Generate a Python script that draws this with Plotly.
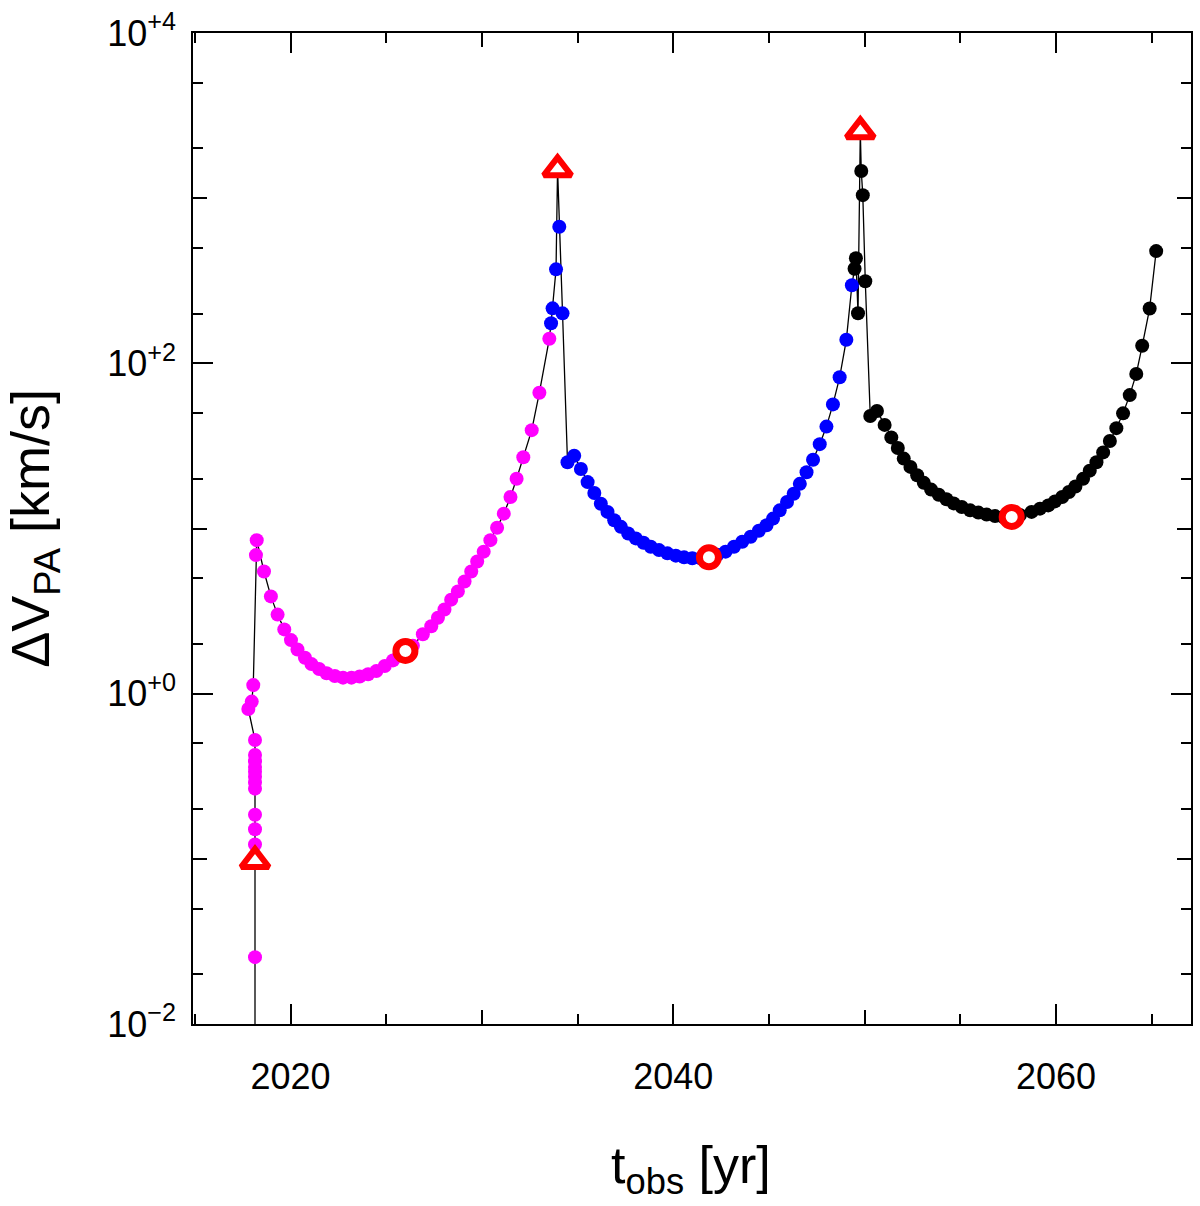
import plotly.graph_objects as go

# ---- data ----
mag_t = [2018.14, 2018.14, 2018.14, 2018.14, 2018.14, 2018.14, 2018.14, 2018.14, 2018.14,
         2018.14, 2018.14, 2018.14, 2018.14, 2018.14, 2017.79, 2017.97, 2018.05, 2018.19,
         2018.23, 2018.61, 2018.97, 2019.32, 2019.67, 2020.02, 2020.36, 2020.75, 2021.09,
         2021.49, 2021.88, 2022.31, 2022.74, 2023.18, 2023.61, 2024.05, 2024.48, 2024.92,
         2025.35, 2025.68, 2026.00, 2026.39, 2026.91, 2027.35, 2027.70, 2028.04, 2028.39,
         2028.74, 2029.09, 2029.44, 2029.75, 2030.09, 2030.44, 2030.79, 2031.14, 2031.49,
         2031.81, 2032.16, 2032.60, 2033.00, 2033.52]
mag_v = [0.003, 0.0254, 0.097, 0.122, 0.151, 0.185, 0.266, 0.29, 0.314,
         0.337, 0.36, 0.39, 0.425, 0.524, 0.808, 0.895, 1.127, 6.9,
         8.5, 5.49, 3.88, 3.01, 2.45, 2.11, 1.85, 1.65, 1.51,
         1.41, 1.33, 1.28, 1.25, 1.25, 1.27, 1.31, 1.37, 1.47,
         1.59, 1.70, 1.81, 1.95, 2.29, 2.56, 2.88, 3.23, 3.71,
         4.16, 4.78, 5.49, 6.31, 7.24, 8.5, 10.1, 12.3, 15.5,
         20.0, 27.0, 39.4, 66.4, 141.0]

blue_t = [2033.61, 2033.69, 2033.87, 2033.95, 2034.04, 2034.21, 2034.47, 2034.82, 2035.17,
          2035.52, 2035.87, 2036.21, 2036.56, 2036.91, 2037.26, 2037.64, 2038.04, 2038.44,
          2038.82, 2039.25, 2039.69, 2040.13, 2040.56, 2040.99, 2041.43, 2041.86, 2042.30,
          2042.73, 2043.17, 2043.60, 2044.04, 2044.47, 2044.87, 2045.21, 2045.56, 2045.94,
          2046.29, 2046.61, 2046.96, 2047.30, 2047.65, 2048.00, 2048.34, 2048.69, 2049.04,
          2049.33]
blue_v = [174.8, 215.2, 370.7, 1494.0, 672.0, 200.8, 25.2, 27.6, 22.9,
          19.1, 16.4, 14.13, 12.6, 11.21, 10.23, 9.33, 8.71, 8.20,
          7.76, 7.40, 7.07, 6.85, 6.69, 6.60, 6.60, 6.69, 6.93,
          7.24, 7.76, 8.32, 8.91, 9.69, 10.47, 11.48, 12.88, 14.47,
          16.23, 18.64, 21.9, 26.1, 32.4, 41.4, 56.4, 82.3, 138.8,
          297.0]

blk_t = [2049.47, 2049.54, 2049.65, 2049.77, 2049.82, 2049.90, 2050.03, 2050.29, 2050.64,
         2051.04, 2051.39, 2051.73, 2052.04, 2052.39, 2052.74, 2053.09, 2053.47, 2053.87,
         2054.27, 2054.65, 2055.07, 2055.51, 2055.94, 2056.37, 2056.81, 2057.24, 2057.68,
         2058.11, 2058.72, 2059.16, 2059.59, 2059.94, 2060.32, 2060.67, 2061.01, 2061.41,
         2061.76, 2062.11, 2062.46, 2062.81, 2063.15, 2063.50, 2063.85, 2064.19, 2064.50,
         2064.89, 2065.23]
blk_v = [374.0, 433.0, 201.0, 2540.0, 1460.0, 1043.0, 314.0, 48.0, 51.4,
         42.4, 35.6, 30.7, 26.5, 23.6, 21.0, 18.9, 17.2, 16.0,
         15.04, 14.19, 13.50, 12.88, 12.48, 12.14, 11.89, 11.75, 11.75,
         12.06, 12.60, 13.19, 13.80, 14.59, 15.50, 16.62, 17.96, 19.98,
         22.4, 25.2, 28.9, 33.9, 40.5, 49.8, 64.2, 86.3, 127.7,
         215.0, 478.0]

peak_t = [2018.14, 2033.95, 2049.77]
peak_v = [0.097, 1494.0, 2540.0]
min_t = [2026.00, 2041.86, 2057.68]
min_v = [1.815, 6.69, 11.75]

x_major = [2020, 2040, 2060]
x_major_text = ["2020", "2040", "2060"]
x_mid = [2030, 2050]
x_minor = [2015, 2025, 2035, 2045, 2055, 2065]
y_major = [1e-2, 1e0, 1e2, 1e4]
y_major_text = ["10<sup>−2</sup>", "10<sup>+0</sup>", "10<sup>+2</sup>", "10<sup>+4</sup>"]
y_mid = [1e-1, 1e1, 1e3]
y_minor = [2e-2, 5e-2, 2e-1, 5e-1, 2, 5, 20, 50, 200, 500, 2e3, 5e3]

X_RANGE = [2014.9, 2067.05]
Y_RANGE = [-2, 4]

FONT = "Liberation Sans, Arial, Helvetica, sans-serif"

fig = go.Figure()

# connecting line
fig.add_trace(go.Scatter(x=mag_t + blue_t + blk_t, y=mag_v + blue_v + blk_v,
                         mode="lines", line=dict(color="black", width=1.3),
                         hoverinfo="skip", showlegend=False))
for t, v, c in [(mag_t, mag_v, "#FF00FF"), (blue_t, blue_v, "#0000FF"), (blk_t, blk_v, "#000000")]:
    fig.add_trace(go.Scatter(x=t, y=v, mode="markers",
                             marker=dict(color=c, size=14, line=dict(width=0)),
                             showlegend=False))
fig.add_trace(go.Scatter(x=min_t, y=min_v, mode="markers",
                         marker=dict(symbol="circle", color="white", size=19,
                                     line=dict(color="#FF0000", width=7)),
                         showlegend=False))
fig.add_trace(go.Scatter(x=peak_t, y=peak_v, mode="markers",
                         marker=dict(symbol="triangle-up", color="white", size=24,
                                     line=dict(color="#FF0000", width=6)),
                         showlegend=False))
# empty trace to realise the overlay axes that carry the mid-length ticks
fig.add_trace(go.Scatter(x=[], y=[], xaxis="x2", yaxis="y2", showlegend=False))

common = dict(showgrid=False, zeroline=False, ticks="inside", tickcolor="black",
              tickwidth=1.5)

fig.update_layout(
    width=1200, height=1206,
    margin=dict(l=193, r=7, t=26, b=182),
    paper_bgcolor="white", plot_bgcolor="white",
    font=dict(family=FONT, color="black"),
    xaxis=dict(range=X_RANGE, tickmode="array", tickvals=x_major, ticktext=x_major_text,
               ticklen=20, showline=True, linecolor="black", linewidth=1.5,
               mirror="allticks", tickfont=dict(size=36, family=FONT),
               ticklabelstandoff=20,
               minor=dict(tickmode="array", tickvals=x_minor, ticks="inside",
                          ticklen=10, tickwidth=1.5, tickcolor="black"),
               **common),
    yaxis=dict(type="log", range=Y_RANGE, tickmode="array", tickvals=y_major,
               ticktext=y_major_text, ticklen=20, showline=True, linecolor="black",
               linewidth=1.5, mirror="allticks", tickfont=dict(size=36, family=FONT),
               ticklabelstandoff=8,
               minor=dict(tickmode="array", tickvals=y_minor, ticks="inside",
                          ticklen=10, tickwidth=1.5, tickcolor="black"),
               **common),
    xaxis2=dict(overlaying="x", anchor="y2", range=X_RANGE, tickmode="array",
                tickvals=x_mid, ticklen=14, showticklabels=False, showline=False,
                mirror="allticks", side="bottom", **common),
    yaxis2=dict(overlaying="y", anchor="x2", type="log", range=Y_RANGE, tickmode="array",
                tickvals=y_mid, ticklen=14, showticklabels=False, showline=False,
                mirror="allticks", side="left", **common),
    annotations=[
        dict(text="t<sub>obs</sub> [yr]", xref="paper", yref="paper", x=0.499, y=-0.146,
             xanchor="center", yanchor="middle", showarrow=False,
             font=dict(size=52, family=FONT, color="black")),
        dict(text="ΔV<sub>PA</sub> [km/s]", xref="paper", yref="paper", x=-0.16, y=0.5,
             xanchor="center", yanchor="middle", textangle=-90, showarrow=False,
             font=dict(size=54, family=FONT, color="black")),
    ],
)

fig.write_html("out.html")
